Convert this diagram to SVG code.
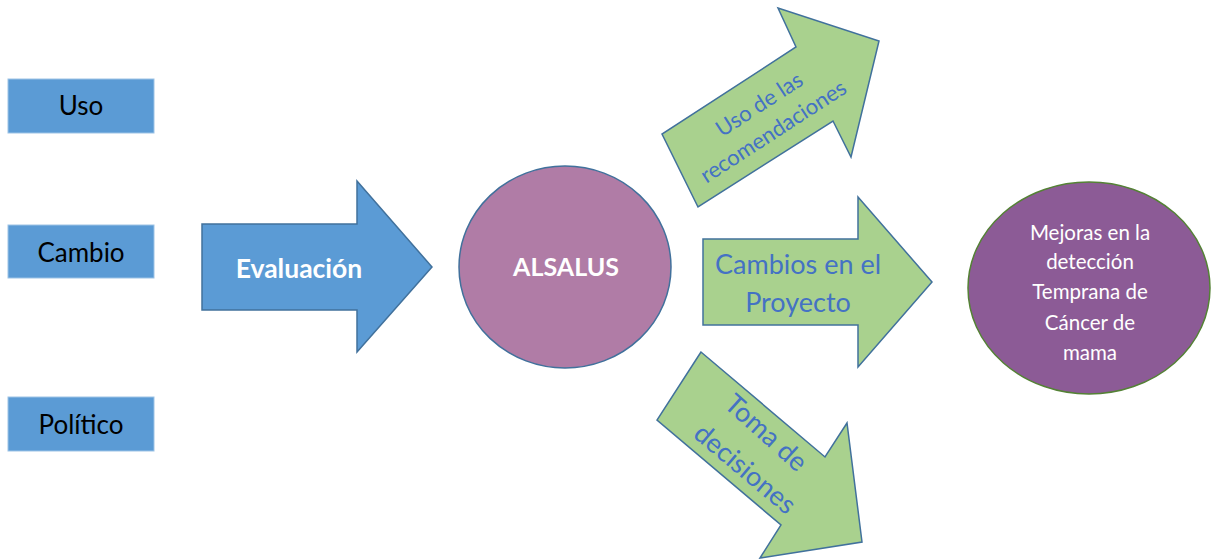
<svg xmlns="http://www.w3.org/2000/svg" width="1211" height="559" viewBox="0 0 1211 559">
<style>
.lbl{fill:#5b9bd5;stroke:#9dc3e6;stroke-width:1}
.lt{font-family:Lato,"Open Sans",sans-serif;font-size:26px;fill:#000;text-anchor:middle}
.blue{fill:#5b9bd5;stroke:#41719c;stroke-width:1.5}
.green{fill:#a9d18e;stroke:#41719c;stroke-width:1.5}
.gt{font-family:Lato,"Open Sans",sans-serif;fill:#4472c4;text-anchor:middle}
.wt{font-family:Lato,"Open Sans",sans-serif;fill:#fff;text-anchor:middle}
</style>
<rect width="1211" height="559" fill="#fff"/>
<g id="uso">
<rect class="lbl" x="8" y="79" width="146" height="54"/>
<text class="lt" x="81" y="115">Uso</text>
</g>
<g id="cambio">
<rect class="lbl" x="8" y="225" width="146" height="53"/>
<text class="lt" x="81" y="262">Cambio</text>
</g>
<g id="politico">
<rect class="lbl" x="8" y="397" width="146" height="54"/>
<text class="lt" x="81" y="434">Político</text>
</g>
<g id="evaluacion">
<polygon class="blue" points="202,224 357,224 357,181 432,267 357,352 357,310 202,310"/>
<text class="wt" x="299" y="278" font-size="26.5" font-weight="bold">Evaluación</text>
</g>
<g id="alsalus">
<ellipse cx="565" cy="267" rx="106" ry="101" fill="#b07ca6" stroke="#41719c" stroke-width="1.5"/>
<text class="wt" x="566" y="276" font-size="25" font-weight="bold">ALSALUS</text>
</g>
<g id="connectors">
<g id="uso-recomendaciones">
<polygon class="green" points="698,207 662,134 796,47 778,8 879,41 851,157 833,121"/>
<g transform="translate(759,104) rotate(-33)"><text class="gt" x="0" y="8" font-size="22">Uso de las</text></g>
<g transform="translate(773,131) rotate(-33)"><text class="gt" x="0" y="8" font-size="22">recomendaciones</text></g>
</g>
<g id="cambios-proyecto">
<polygon class="green" points="703,239 858,239 858,197 932,282 858,367 858,325 703,325"/>
<text class="gt" x="798" y="274" font-size="27">Cambios en el</text>
<text class="gt" x="798" y="312" font-size="27">Proyecto</text>
</g>
<g id="toma-decisiones">
<polygon class="green" points="701,352 657,420 781,525 760,558 862,542 847,423 825,457"/>
<g transform="translate(766,433) rotate(42)"><text class="gt" x="0" y="9" font-size="27">Toma de</text></g>
<g transform="translate(745,469) rotate(40)"><text class="gt" x="0" y="9" font-size="27">decisiones</text></g>
</g>
</g>
<g id="mejoras">
<ellipse cx="1089" cy="288" rx="121" ry="106" fill="#8c5b96" stroke="#548235" stroke-width="1.5"/>
<text class="wt" font-size="20.5" x="1090" y="240">Mejoras en la</text>
<text class="wt" font-size="20.5" x="1090" y="269">detección</text>
<text class="wt" font-size="20.5" x="1090" y="299">Temprana de</text>
<text class="wt" font-size="20.5" x="1090" y="330">Cáncer de</text>
<text class="wt" font-size="20.5" x="1090" y="360">mama</text>
</g>
</svg>
